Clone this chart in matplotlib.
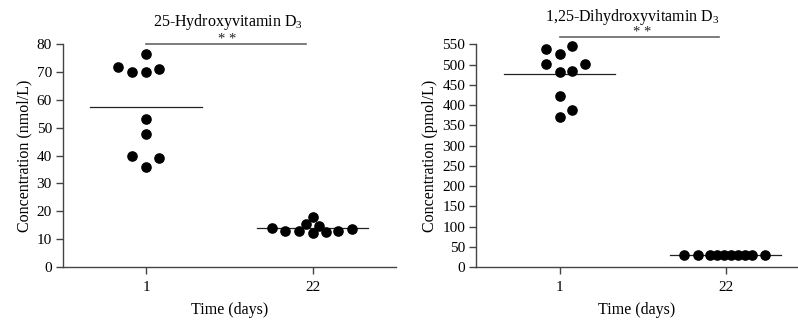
import numpy as np
import matplotlib
matplotlib.use("Agg")
from matplotlib import pyplot as plt

plt.rcParams['font.family'] = ['Liberation Serif', 'DejaVu Serif']
plt.rcParams['mathtext.fontset'] = 'custom'
plt.rcParams['mathtext.rm'] = 'Liberation Serif'
plt.rcParams['mathtext.it'] = 'Liberation Serif:italic'

# day labels on the x axis
days = ['1', '22']

# 25-hydroxyvitamin D3 (nmol/L), with horizontal offsets used for the dot layout
d25_day1 = [76.4, 71.9, 70.1, 70.1, 71.0, 53.1, 47.7, 40.0, 39.1, 36.1]
d25_day1_off = [0.0, -0.168, -0.084, 0.0, 0.08, 0.0, 0.0, -0.084, 0.08, 0.0]
d25_day22 = [13.9, 13.0, 12.8, 15.5, 18.0, 12.1, 14.7, 12.5, 12.9, 13.5]
d25_day22_off = [-0.244, -0.163, -0.084, -0.042, 0.0, 0.0, 0.038, 0.078, 0.156, 0.235]

# 1,25-dihydroxyvitamin D3 (pmol/L)
d125_day1 = [538, 546.5, 525, 500.5, 500.5, 480.7, 484, 422, 389, 371]
d125_day1_off = [-0.084, 0.074, 0.0, -0.084, 0.155, 0.0, 0.074, 0.0, 0.074, 0.0]
d125_day22 = [29, 29, 29, 29, 29, 29, 29, 29, 29, 29]
d125_day22_off = [-0.253, -0.167, -0.092, -0.05, -0.008, 0.033, 0.075, 0.116, 0.157, 0.235]


def dot_panel(ax, g1, o1, g2, o2, ymax, yticks, ylabel, title, bar_y, xmax, title_xy, star_x):
  for i, (vals, offs) in enumerate([(g1, o1), (g2, o2)]):
    xs = i + np.array(offs)
    ax.scatter(xs, vals, s=44, color='black', zorder=3, clip_on=False)
    m = np.mean(vals)
    ax.plot([i - 0.335, i + 0.335], [m, m], color='#222222', lw=0.9, zorder=2)

  ax.set_xlim(-0.5, xmax)
  ax.set_ylim(0, ymax)
  ax.set_xticks([0, 1])
  ax.set_xticklabels(days)
  ax.set_yticks(yticks)
  for s in ['top', 'right']:
    ax.spines[s].set_visible(False)
  for s in ['left', 'bottom']:
    ax.spines[s].set_color('#444444')
    ax.spines[s].set_linewidth(1.0)
  ax.tick_params(axis='both', labelsize=11, length=5, width=1.0, color='#444444', pad=3)
  ax.tick_params(axis='x', pad=5)
  ax.set_xlabel('Time (days)', fontsize=11.5, labelpad=6)
  ax.set_ylabel(ylabel, fontsize=11.5, labelpad=3)

  # significance bar
  ax.plot([0, 0.96], [bar_y, bar_y], color='#666666', lw=1.2, clip_on=False)
  ax.annotate('* *', (star_x, bar_y), xytext=(0, 0.3), textcoords='offset points',
              ha='center', va='baseline', fontsize=10.5, color='#222222',
              annotation_clip=False)
  ax.text(title_xy[0], title_xy[1], title, transform=ax.transAxes,
          ha='center', va='center', fontsize=11.5)


fig = plt.figure(figsize=(7.98, 3.26), dpi=100)
ax1 = fig.add_axes([0.0789, 0.181, 0.417, 0.683])
ax2 = fig.add_axes([0.597, 0.181, 0.402, 0.683])

dot_panel(ax1, d25_day1, d25_day1_off, d25_day22, d25_day22_off,
          80, np.arange(0, 81, 10), 'Concentration (nmol/L)',
          '25-Hydroxyvitamin D$_3$', 80.3, 1.5, (0.496, 1.099), 0.49)
dot_panel(ax2, d125_day1, d125_day1_off, d125_day22, d125_day22_off,
          550, np.arange(0, 551, 50), 'Concentration (pmol/L)',
          '1,25-Dihydroxyvitamin D$_3$', 569, 1.43, (0.485, 1.125), 0.5)

fig.savefig('out.png', dpi=100)
